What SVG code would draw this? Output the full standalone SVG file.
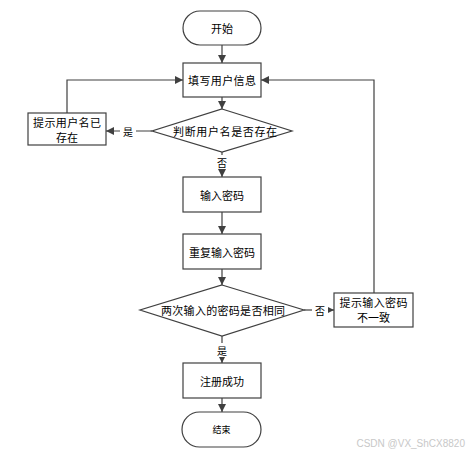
<svg xmlns="http://www.w3.org/2000/svg" width="469" height="458" viewBox="0 0 469 458">
<style>
.n{fill:#fff;stroke:#404040;stroke-width:1.2}
.t{font-family:"Noto Sans CJK SC","Liberation Sans",sans-serif;font-size:11px;fill:#000;text-anchor:middle;dominant-baseline:central}
.c{fill:none;stroke:#404040;stroke-width:1.2}
.l{font-family:"Noto Sans CJK SC","Liberation Sans",sans-serif;font-size:10px;fill:#000;text-anchor:middle;dominant-baseline:central}
</style>
<defs>
<marker id="a" viewBox="0 0 10 10" refX="10" refY="5" markerWidth="8" markerHeight="8" markerUnits="userSpaceOnUse" orient="auto">
<path d="M0,0L10,5L0,10z" fill="#404040"/>
</marker>
</defs>
<rect width="469" height="458" fill="#fff"/>
<g id="connectors">
<path class="c" d="M222,45V63" marker-end="url(#a)"/>
<path class="c" d="M222,97V109" marker-end="url(#a)"/>
<path class="c" d="M152,131H106" marker-end="url(#a)"/>
<path class="c" d="M67,113V80H183" marker-end="url(#a)"/>
<path class="c" d="M222,152V177" marker-end="url(#a)"/>
<path class="c" d="M222,212V234" marker-end="url(#a)"/>
<path class="c" d="M222,269V285" marker-end="url(#a)"/>
<path class="c" d="M304,310H334" marker-end="url(#a)"/>
<path class="c" d="M374,293V80H261" marker-end="url(#a)"/>
<path class="c" d="M222,336V363" marker-end="url(#a)"/>
<path class="c" d="M222,398V412" marker-end="url(#a)"/>
<rect x="120" y="124" width="16" height="14" fill="#fff"/>
<text class="l" x="128" y="131">是</text>
<rect x="215" y="155" width="14" height="14" fill="#fff"/>
<text class="l" x="222" y="162">否</text>
<rect x="312" y="303" width="16" height="14" fill="#fff"/>
<text class="l" x="320" y="310">否</text>
<rect x="215" y="343" width="14" height="14" fill="#fff"/>
<text class="l" x="222" y="350">是</text>
</g>
<g id="start"><rect class="n" x="183" y="11" width="78" height="34" rx="17"/><text class="t" x="222" y="28">开始</text></g>
<g id="fill"><rect class="n" x="183" y="63" width="78" height="34"/><text class="t" x="222" y="80" textLength="68" lengthAdjust="spacing">填写用户信息</text></g>
<g id="check-user"><polygon class="n" points="222,109 292,131 222,152 152,131"/><text class="t" x="225" y="131" textLength="104" lengthAdjust="spacing">判断用户名是否存在</text></g>
<g id="user-exists"><rect class="n" x="28" y="113" width="78" height="32"/><text class="t" x="67" y="122" textLength="68" lengthAdjust="spacing">提示用户名已</text><text class="t" x="67" y="137">存在</text></g>
<g id="pwd"><rect class="n" x="183" y="177" width="78" height="35"/><text class="t" x="222" y="194.5" textLength="44" lengthAdjust="spacing">输入密码</text></g>
<g id="pwd2"><rect class="n" x="183" y="234" width="78" height="35"/><text class="t" x="222" y="251.5" textLength="66" lengthAdjust="spacing">重复输入密码</text></g>
<g id="check-pwd"><polygon class="n" points="222,285 304,310 222,336 140,310"/><text class="t" x="223" y="310" textLength="124" lengthAdjust="spacing">两次输入的密码是否相同</text></g>
<g id="pwd-mismatch"><rect class="n" x="334" y="293" width="79" height="34"/><text class="t" x="373.5" y="302" textLength="68" lengthAdjust="spacing">提示输入密码</text><text class="t" x="373.5" y="317">不一致</text></g>
<g id="success"><rect class="n" x="183" y="363" width="78" height="35"/><text class="t" x="222" y="380.5" textLength="44" lengthAdjust="spacing">注册成功</text></g>
<g id="end"><rect class="n" x="182" y="412" width="79" height="35" rx="17.5"/><text class="t" x="221.5" y="429.5" style="font-size:9px">结束</text></g>
<text x="465" y="447" font-family="'Liberation Sans',sans-serif" font-size="10" fill="#c8c8c8" text-anchor="end">CSDN @VX_ShCX8820</text>
</svg>
